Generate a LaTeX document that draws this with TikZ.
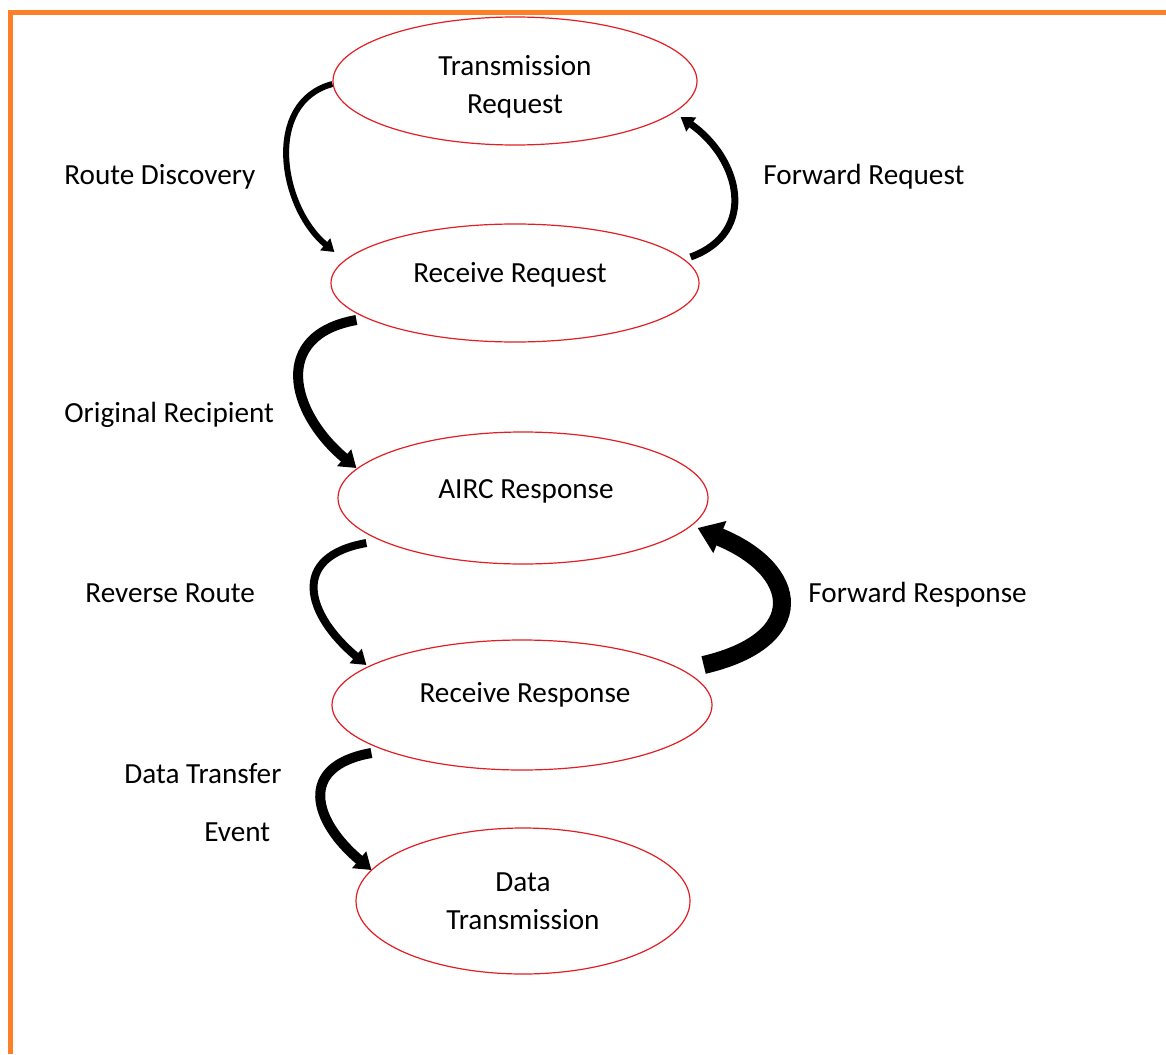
\documentclass[tikz,border=0pt]{standalone}
\usepackage{fontspec}
\setmainfont{Carlito}
\usepackage{tikz}
\usetikzlibrary{arrows.meta,calc,shapes.geometric}
\definecolor{framecol}{RGB}{253,128,40}
\definecolor{ringcol}{RGB}{225,30,35}
\tikzset{
  state/.style={ellipse,draw=ringcol,line width=0.6pt,inner sep=0pt},
  flow/.style={line width=#1,-{Triangle[length=3pt 1,width=3pt 1.5]}},
  tag/.style={anchor=base west,inner sep=0pt},
}
\begin{document}
\begin{tikzpicture}[x=0.5pt,y=0.5pt,font=\fontsize{14.6}{19}\selectfont]
    \useasboundingbox (0,0) rectangle (1166,-1054);
    \draw[framecol,line width=2.5pt] (10.5,-1054) -- (10.5,-12.5) -- (1166,-12.5);
    \node[state,minimum width=182pt,minimum height=64pt,label={[align=center,yshift=-2.75pt]center:Transmission\\Request}] (treq) at (515,-81) {};
    \node[state,minimum width=184pt,minimum height=59pt,label={[xshift=-2.5pt,yshift=4pt]center:Receive Request}] (rreq) at (515,-283) {};
    \node[state,minimum width=185pt,minimum height=66pt,label={[xshift=1.5pt,yshift=3.5pt]center:AIRC Response}] (airc) at (523,-498) {};
    \node[state,minimum width=190pt,minimum height=65pt,label={[xshift=1.5pt,yshift=5pt]center:Receive Response}] (rresp) at (522,-705) {};
    \node[state,minimum width=167pt,minimum height=73pt,label={[align=center]center:Data\\Transmission}] (dtx) at (523,-901) {};
    \draw[flow=3pt] ($(treq.west)+(0,-3)$) to[out=195,in=140,looseness=1.08] ($(rreq.west)+(4,31)$);
    \draw[flow=3.5pt] ($(rreq.east)+(-9,26)$) to[out=20,in=-35,looseness=1.32] ($(treq.east)+(-17,-36)$);
    \draw[flow=5pt] ($(rreq.west)+(26,-37)$) to[out=190,in=140,looseness=1.5] ($(airc.west)+(19,30)$);
    \draw[flow=9pt] ($(rresp.east)+(-9,40)$) .. controls +(107,25) and +(103,-42) .. ($(airc.east)+(-11,-30)$);
    \draw[flow=4pt] ($(airc.west)+(29,-45)$) to[out=190,in=140,looseness=1.65] ($(rresp.west)+(35,40)$);
    \draw[flow=5pt] ($(rresp.west)+(40,-48)$) to[out=190,in=140,looseness=1.66] ($(dtx.west)+(16,31)$);
    \node[tag] (lrd) at (64,-184) {Route Discovery};
    \node[tag] (lfq) at (763,-184) {Forward Request};
    \node[tag] (lor) at (64,-422) {Original Recipient};
    \node[tag] (lrr) at (85,-602) {Reverse Route};
    \node[tag] (lfr) at (808,-602) {Forward Response};
    \node[tag] (ldt) at (124,-783) {Data Transfer};
    \node[tag] (lev) at (204,-841) {Event};
\end{tikzpicture}
\end{document}
